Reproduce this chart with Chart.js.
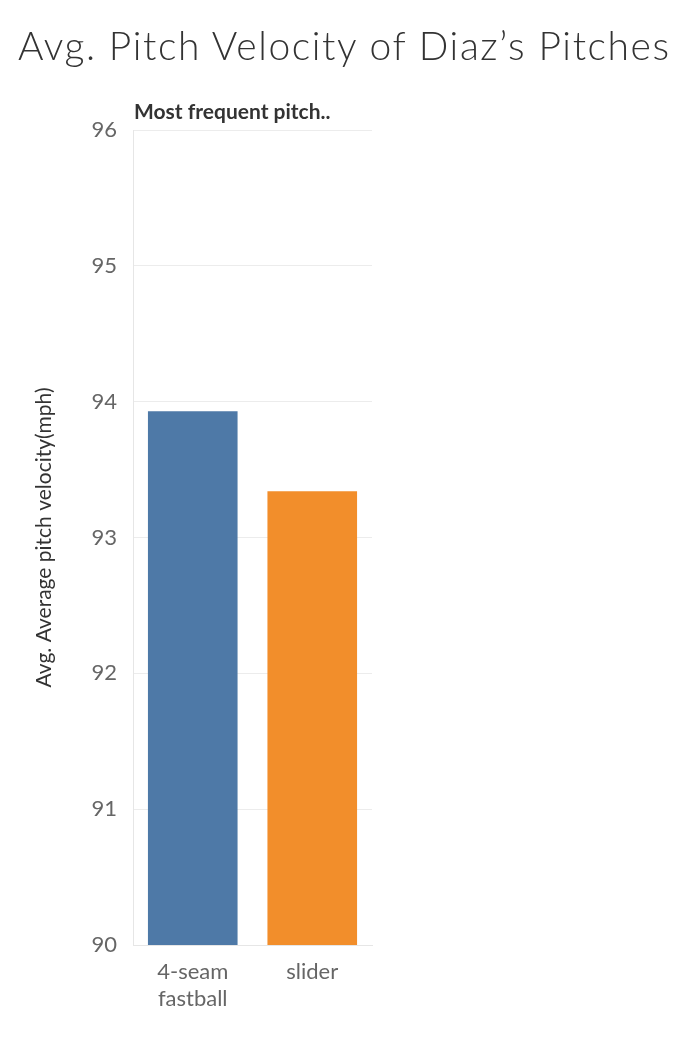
<!DOCTYPE html>
<html lang="en">
  <head>
    <meta charset="UTF-8" />
    <script src="https://cdn.jsdelivr.net/npm/chart.js"></script>
    <style>
      body { margin: 0; background: #fff; font-family: Lato, "Open Sans", sans-serif; }
      #wrap { position: relative; width: 694px; height: 1040px; }
      #title { position: absolute; left: 18px; top: 22px; font-size: 39px; font-weight: 300; color: #333; white-space: nowrap; letter-spacing: 1.6px; }
      #header { position: absolute; left: 134px; top: 98px; font-size: 21px; font-weight: bold; color: #333; }
      canvas { position: absolute; left: 0; top: 0; }
    </style>
  </head>
  <body>
    <div id="wrap">
      <canvas id="c" width="694" height="1040"></canvas>
      <div id="title">Avg. Pitch Velocity of Diaz’s Pitches</div>
      <div id="header">Most frequent pitch..</div>
    </div>
    <script>
      const categories = [["4-seam", "fastball"], "slider"];
      const velocities = [93.93, 93.34];
      const barColors = ["#4e79a7", "#f28e2b"];

      new Chart(document.getElementById("c"), {
        type: "bar",
        data: {
          labels: categories,
          datasets: [{ data: velocities, backgroundColor: barColors, barPercentage: 0.75, categoryPercentage: 1 }],
        },
        options: {
          responsive: false,
          animation: false,
          layout: { padding: { top: 130, right: 322, left: 0, bottom: 0 } },
          plugins: { legend: { display: false }, tooltip: { enabled: false } },
          scales: {
            y: {
              min: 90,
              max: 96,
              ticks: { stepSize: 1, color: "#666", font: { size: 22, family: "Lato" }, padding: 16 },
              grid: { color: "#ececec", drawTicks: false },
              border: { color: "#e6e6e6" },
              title: { display: true, text: "Avg. Average pitch velocity(mph)", color: "#333", font: { size: 21, family: "Lato" }, padding: { top: 32, bottom: 0 } },
              afterFit: (s) => { s.width = 133; },
            },
            x: {
              ticks: { color: "#666", font: { size: 22, family: "Lato" }, padding: 6 },
              grid: { display: false },
              border: { color: "#e6e6e6" },
              afterFit: (s) => { s.height = 95; },
            },
          },
        },
      });
    </script>
  </body>
</html>
